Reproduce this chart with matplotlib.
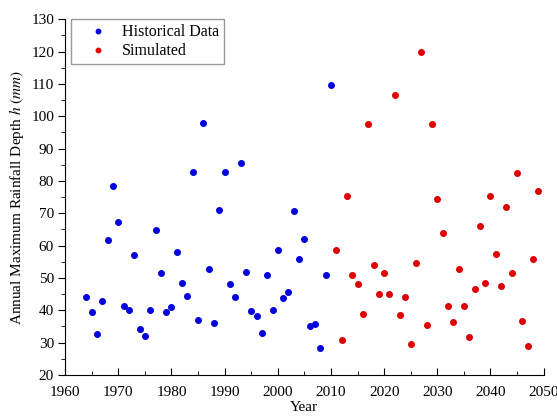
import matplotlib
matplotlib.use("Agg")
import matplotlib.pyplot as plt
import numpy as np

plt.rcParams['font.family'] = ['Liberation Serif', 'DejaVu Serif']
plt.rcParams['mathtext.fontset'] = 'stix'

# Historical observations 1964-2010
hist_years = list(range(1964, 2011))
hist_depth = [44.0, 39.5, 32.6, 42.8, 61.9, 78.3, 67.4, 41.2, 40.1, 57.0,
              34.3, 32.2, 40.2, 64.7, 51.6, 39.6, 41.0, 58.0, 48.5, 44.5,
              82.7, 36.9, 97.8, 52.9, 36.2, 70.9, 82.8, 48.0, 44.0, 85.5,
              52.0, 39.9, 38.2, 33.1, 51.0, 40.0, 58.7, 43.8, 45.8, 70.8,
              55.9, 62.1, 35.0, 35.7, 28.2, 51.0, 109.6]

# Simulated values 2011-2049
sim_years = list(range(2011, 2050))
sim_depth = [58.6, 30.7, 75.4, 50.8, 48.1, 39.0, 97.5, 54.1, 45.0, 51.5,
             45.0, 106.6, 38.7, 44.2, 29.6, 54.5, 119.9, 35.6, 97.7, 74.3,
             63.8, 41.2, 36.5, 52.9, 41.2, 31.8, 46.5, 66.0, 48.3, 75.4,
             57.5, 47.6, 71.8, 51.5, 82.6, 36.7, 29.1, 55.9, 77.0]

fig = plt.figure(figsize=(5.57, 4.16), dpi=100)
ax = fig.add_axes([0.117, 0.0986, 0.859, 0.855])

ax.plot(hist_years, hist_depth, 'o', color='#0000dd', markersize=4, label='Historical Data')
ax.plot(sim_years, sim_depth, 'o', color='#dd0000', markersize=4, label='Simulated')

ax.set_xlim(1960, 2050)
ax.set_ylim(20, 130)
ax.set_xticks(np.arange(1960, 2051, 10))
ax.set_xticks(np.arange(1960, 2051, 5), minor=True)
ax.set_yticks(np.arange(20, 131, 10))
ax.set_yticks(np.arange(20, 131, 5), minor=True)

ax.spines['top'].set_visible(False)
ax.spines['right'].set_visible(False)
ax.tick_params(axis='x', which='major', direction='in', length=5, labelsize=11, pad=8)
ax.tick_params(axis='x', which='minor', direction='in', length=3)
ax.tick_params(axis='y', which='major', direction='out', length=5, labelsize=11, pad=3)
ax.tick_params(axis='y', which='minor', direction='out', length=3)

ax.set_xlabel('Year', fontsize=11, labelpad=1.5)
ax.set_ylabel(r'Annual Maximum Rainfall Depth $h$ $(mm)$', fontsize=11, labelpad=4)

leg = ax.legend(loc='upper left', bbox_to_anchor=(0.012, 1.0), fontsize=11.5,
                markerscale=0.8, handlelength=2.8, handletextpad=0.1,
                borderaxespad=0, fancybox=False, framealpha=1, edgecolor='#999999',
                labelspacing=0.2, borderpad=0.3)

fig.savefig('out.png', dpi=100)
